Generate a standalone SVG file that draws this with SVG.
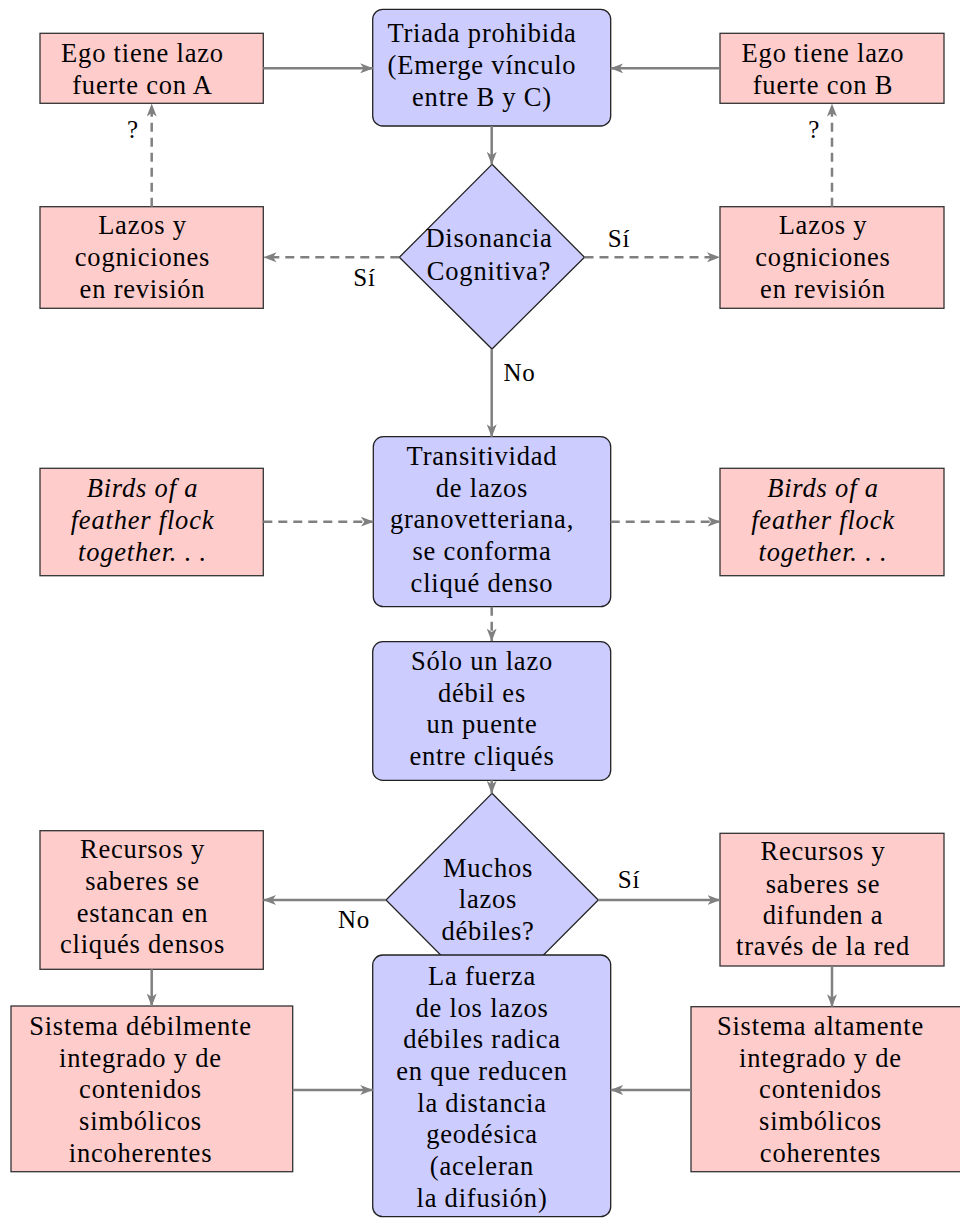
<svg xmlns="http://www.w3.org/2000/svg" width="960" height="1218" viewBox="0 0 960 1218">
<style>
  .pink { fill: #ffcccc; stroke: #333333; stroke-width: 1.3; }
  .blue { fill: #ccccff; stroke: #222222; stroke-width: 1.3; }
  text { font-family: "Liberation Serif", "Times New Roman", serif; font-size: 26.5px; fill: #000; text-anchor: middle; letter-spacing: 0.8px; }
  .it { font-style: italic; }
  .lbl { font-size: 25px; }
  .edge { fill: none; stroke: #808080; stroke-width: 2.5; marker-end: url(#arr); }
  .dash { stroke-dasharray: 9 6; }
</style>
<defs>
  <marker id="arr" viewBox="0 0 13 10" refX="12.5" refY="5" markerWidth="13" markerHeight="10" markerUnits="userSpaceOnUse" orient="auto">
    <path d="M0,0 L13,5 L0,10 L3.5,5 Z" fill="#808080"/>
  </marker>
</defs>
<rect width="960" height="1218" fill="#ffffff"/>

<g id="n_egoA">
  <rect class="pink" x="40" y="33.3" width="223.3" height="70"/>
  <text x="142.5" y="61.7">Ego tiene lazo</text>
  <text x="142.5" y="94.3">fuerte con A</text>
</g>
<g id="n_egoB">
  <rect class="pink" x="720" y="33.3" width="224" height="70"/>
  <text x="823" y="61.7">Ego tiene lazo</text>
  <text x="823" y="94.3">fuerte con B</text>
</g>
<g id="n_triada">
  <rect class="blue" x="372.7" y="9.3" width="238" height="116.7" rx="10"/>
  <text x="482" y="42.3">Triada prohibida</text>
  <text x="482" y="74">(Emerge vínculo</text>
  <text x="482" y="106">entre B y C)</text>
</g>
<g id="n_lazosL">
  <rect class="pink" x="40" y="206.7" width="223.3" height="101.6"/>
  <text x="142.5" y="234.3">Lazos y</text>
  <text x="142.5" y="266">cogniciones</text>
  <text x="142.5" y="297.7">en revisión</text>
</g>
<g id="n_lazosR">
  <rect class="pink" x="720" y="206.7" width="224" height="101.6"/>
  <text x="823" y="234.3">Lazos y</text>
  <text x="823" y="266">cogniciones</text>
  <text x="823" y="297.7">en revisión</text>
</g>
<g id="n_dis">
  <polygon class="blue" points="492,164.3 584.5,257.3 492,349 399.3,257.3"/>
  <text x="489" y="247.3">Disonancia</text>
  <text x="489" y="280">Cognitiva?</text>
</g>
<g id="n_trans">
  <rect class="blue" x="373.3" y="436.7" width="237.4" height="170" rx="10"/>
  <text x="482" y="465">Transitividad</text>
  <text x="482" y="496.7">de lazos</text>
  <text x="482" y="528.3">granovetteriana,</text>
  <text x="482" y="560">se conforma</text>
  <text x="482" y="591.7">cliqué denso</text>
</g>
<g id="n_birdsL">
  <rect class="pink" x="40" y="468.3" width="223.3" height="107.4"/>
  <text class="it" x="142.5" y="496.7">Birds of a</text>
  <text class="it" x="142.5" y="529.3">feather flock</text>
  <text class="it" x="142.5" y="560.7">together. . .</text>
</g>
<g id="n_birdsR">
  <rect class="pink" x="720" y="468.3" width="224" height="107.4"/>
  <text class="it" x="823" y="496.7">Birds of a</text>
  <text class="it" x="823" y="529.3">feather flock</text>
  <text class="it" x="823" y="560.7">together. . .</text>
</g>
<g id="n_solo">
  <rect class="blue" x="372.7" y="641.7" width="238" height="138.6" rx="10"/>
  <text x="482" y="670">Sólo un lazo</text>
  <text x="482" y="701.7">débil es</text>
  <text x="482" y="733.3">un puente</text>
  <text x="482" y="765">entre cliqués</text>
</g>
<g id="n_muchos">
  <polygon class="blue" points="492,793.3 598.3,900 492,1006.7 386,900"/>
  <text x="488" y="876.7">Muchos</text>
  <text x="488" y="908.3">lazos</text>
  <text x="488" y="940">débiles?</text>
</g>
<g id="n_recL">
  <rect class="pink" x="40" y="830.7" width="223.3" height="138.6"/>
  <text x="142.5" y="858.3">Recursos y</text>
  <text x="142.5" y="890">saberes se</text>
  <text x="142.5" y="921.7">estancan en</text>
  <text x="142.5" y="952.7">cliqués densos</text>
</g>
<g id="n_recR">
  <rect class="pink" x="720" y="833.3" width="224" height="132.7"/>
  <text x="823" y="860">Recursos y</text>
  <text x="823" y="892.7">saberes se</text>
  <text x="823" y="924">difunden a</text>
  <text x="823" y="955">través de la red</text>
</g>
<g id="n_sisL">
  <rect class="pink" x="11" y="1006" width="281.7" height="165.7"/>
  <text x="140.5" y="1035">Sistema débilmente</text>
  <text x="140.5" y="1066.7">integrado y de</text>
  <text x="140.5" y="1098.3">contenidos</text>
  <text x="140.5" y="1130">simbólicos</text>
  <text x="140.5" y="1161.7">incoherentes</text>
</g>
<g id="n_sisR">
  <rect class="pink" x="691" y="1006.7" width="282" height="165"/>
  <text x="820.5" y="1035">Sistema altamente</text>
  <text x="820.5" y="1066.7">integrado y de</text>
  <text x="820.5" y="1098.3">contenidos</text>
  <text x="820.5" y="1130">simbólicos</text>
  <text x="820.5" y="1161.7">coherentes</text>
</g>
<g id="n_fuerza">
  <rect class="blue" x="372.7" y="955" width="238" height="261.7" rx="10"/>
  <text x="482" y="985">La fuerza</text>
  <text x="482" y="1016.7">de los lazos</text>
  <text x="482" y="1048.3">débiles radica</text>
  <text x="482" y="1080">en que reducen</text>
  <text x="482" y="1111.7">la distancia</text>
  <text x="482" y="1143.3">geodésica</text>
  <text x="482" y="1175">(aceleran</text>
  <text x="482" y="1206.7">la difusión)</text>
</g>

<g id="connectors">
  <path class="edge" d="M263.3,68.3 H372.7"/>
  <path class="edge" d="M720,68.3 H610.7"/>
  <path class="edge" d="M491.7,126 V164.3"/>
  <path class="edge dash" d="M399.3,257.3 H264"/>
  <path class="edge dash" d="M584.5,257.3 H719.5"/>
  <path class="edge dash" d="M151.7,206.7 V104"/>
  <path class="edge dash" d="M832,206.7 V104"/>
  <path class="edge" d="M491.7,349 V436.7"/>
  <path class="edge dash" d="M263.3,521.7 H373.3"/>
  <path class="edge dash" d="M610.7,521.7 H720"/>
  <path class="edge dash" d="M491.7,606.7 V641"/>
  <path class="edge" d="M491.7,780.3 V793.3"/>
  <path class="edge" d="M386,900 H263.5"/>
  <path class="edge" d="M598.3,900 H720"/>
  <path class="edge" d="M151.7,969.3 V1006"/>
  <path class="edge" d="M832,966 V1006.7"/>
  <path class="edge" d="M292.7,1090 H372.7"/>
  <path class="edge" d="M691,1090 H610.7"/>
</g>

<g id="labels">
  <text class="lbl" x="133" y="138.3">?</text>
  <text class="lbl" x="814.3" y="138.3">?</text>
  <text class="lbl" x="364.5" y="286">Sí</text>
  <text class="lbl" x="619" y="246.5">Sí</text>
  <text class="lbl" x="519.5" y="381">No</text>
  <text class="lbl" x="354" y="928">No</text>
  <text class="lbl" x="629" y="888">Sí</text>
</g>
</svg>
